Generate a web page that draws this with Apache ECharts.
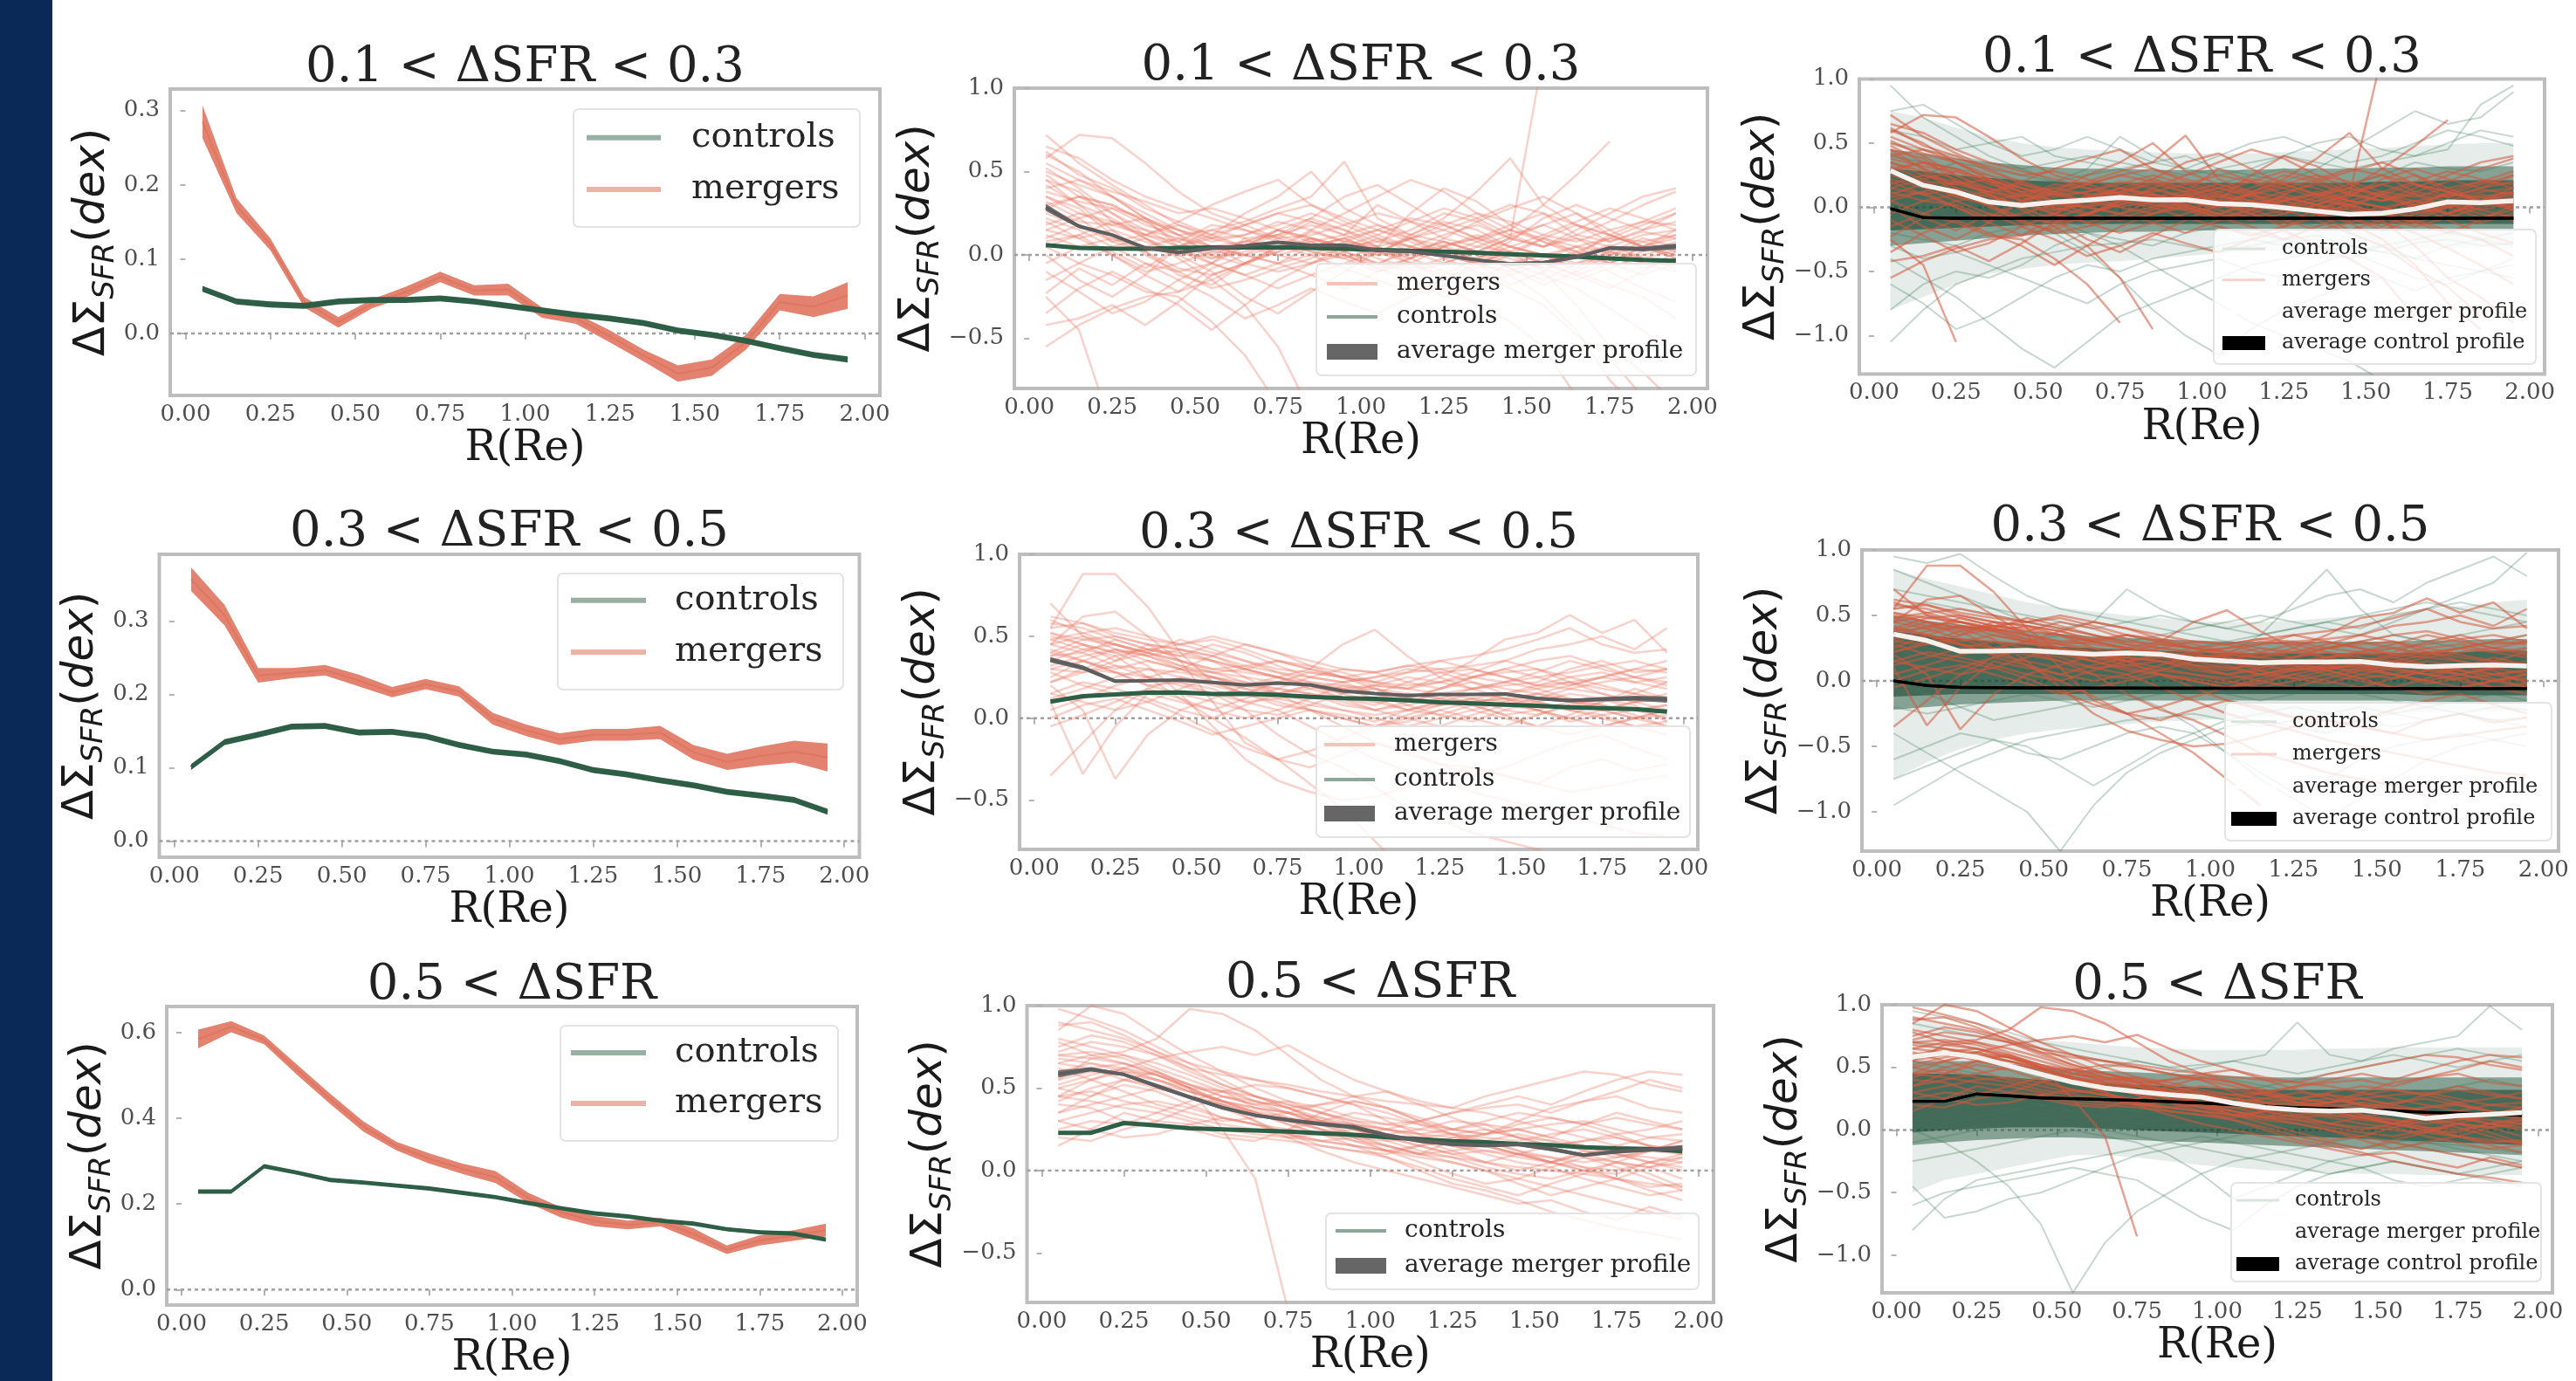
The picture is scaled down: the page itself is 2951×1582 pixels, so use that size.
<!DOCTYPE html>
<html><head><meta charset="utf-8">
<script src="https://cdn.jsdelivr.net/npm/echarts@6/dist/echarts.min.js"></script>
<style>html,body{margin:0;padding:0;background:#fff;overflow:hidden}#c{width:2951px;height:1582px}</style>
</head><body><div id="c"></div>
<script>
// ---------------- DATA ----------------
const xs=[0.05,0.15,0.25,0.35,0.45,0.55,0.65,0.75,0.85,0.95,1.05,1.15,1.25,1.35,1.45,1.55,1.65,1.75,1.85,1.95];
const xTicks=[0,0.25,0.5,0.75,1.0,1.25,1.5,1.75,2.0];
const rowTitles=['0.1 < ΔSFR < 0.3','0.3 < ΔSFR < 0.5','0.5 < ΔSFR'];

// Row 1 : 0.1 < dSFR < 0.3
const r1MergAvg=[0.285,0.172,0.120,0.042,0.015,0.040,0.056,0.076,0.058,0.059,0.028,0.020,-0.004,-0.030,-0.054,-0.046,-0.012,0.042,0.036,0.051];
const r1MergErr=[0.022,0.010,0.008,0.007,0.007,0.006,0.007,0.007,0.007,0.008,0.007,0.007,0.008,0.008,0.011,0.011,0.010,0.011,0.014,0.018];
const r1CtrlAvg=[0.060,0.043,0.039,0.037,0.043,0.045,0.045,0.047,0.043,0.037,0.031,0.025,0.020,0.014,0.004,-0.002,-0.010,-0.020,-0.029,-0.035];
const r1CtrlErr=[0.004,0.004,0.004,0.004,0.004,0.004,0.004,0.004,0.004,0.004,0.004,0.004,0.004,0.004,0.004,0.004,0.004,0.004,0.004,0.004];
const r1CtrlAll=[-0.010,-0.080,-0.085,-0.085,-0.085,-0.085,-0.085,-0.085,-0.085,-0.085,-0.085,-0.085,-0.085,-0.085,-0.085,-0.085,-0.085,-0.085,-0.085,-0.085];
const r1CtrlAllErr=[0.012,0.012,0.012,0.012,0.012,0.012,0.012,0.012,0.012,0.012,0.012,0.012,0.012,0.012,0.012,0.012,0.012,0.012,0.012,0.012];
const r1CtrlOuterLo=[-0.80,-0.70,-0.60,-0.52,-0.48,-0.45,-0.43,-0.42,-0.40,-0.38,-0.36,-0.35,-0.34,-0.33,-0.33,-0.32,-0.32,-0.32,-0.32,-0.32];
const r1CtrlOuterHi=[0.75,0.70,0.62,0.55,0.50,0.47,0.45,0.44,0.43,0.42,0.42,0.42,0.43,0.44,0.45,0.46,0.48,0.49,0.50,0.50];
const r1CtrlInnerLo=[-0.30,-0.28,-0.26,-0.24,-0.22,-0.21,-0.20,-0.19,-0.19,-0.18,-0.18,-0.18,-0.18,-0.18,-0.18,-0.18,-0.18,-0.18,-0.18,-0.18];
const r1CtrlInnerHi=[0.45,0.42,0.38,0.35,0.33,0.31,0.30,0.30,0.29,0.29,0.29,0.29,0.30,0.30,0.30,0.31,0.31,0.32,0.32,0.32];
const r1CtrlCoreLo=[-0.18,-0.17,-0.16,-0.15,-0.14,-0.13,-0.13,-0.13,-0.13,-0.13,-0.13,-0.13,-0.13,-0.13,-0.13,-0.13,-0.13,-0.13,-0.13,-0.13];
const r1CtrlCoreHi=[0.30,0.28,0.25,0.23,0.21,0.20,0.19,0.19,0.19,0.19,0.19,0.19,0.19,0.19,0.19,0.20,0.20,0.21,0.21,0.21];
const r1MergLines=[
[0.72,0.55,0.42,0.30,0.18,0.10,0.12,0.20,0.15,0.08,0.05,0.10,0.00,-0.05,-0.10,-0.02,0.05,0.10,0.08,0.12],
[0.58,0.72,0.70,0.55,0.38,0.25,0.18,0.25,0.30,0.22,0.15,0.10,0.18,0.25,0.20,0.12,0.08,0.15,0.20,0.18],
[0.62,0.48,0.40,0.28,0.20,0.12,0.25,0.35,0.50,0.28,0.18,0.12,0.20,0.15,0.05,0.00,-0.08,0.02,0.10,0.05],
[0.50,0.42,0.35,0.22,0.05,-0.05,-0.12,-0.05,0.05,0.10,0.02,-0.05,-0.12,-0.02,0.08,0.22,0.30,0.22,0.15,0.25],
[0.45,0.38,0.20,0.10,0.00,-0.10,-0.25,-0.35,-0.22,-0.10,0.02,0.10,0.05,-0.05,-0.18,-0.10,0.00,0.06,-0.02,-0.08],
[0.38,0.32,0.28,0.18,0.12,0.15,0.20,0.28,0.35,0.56,0.22,0.12,0.08,0.02,-0.02,-0.08,0.00,0.12,0.05,-0.02],
[0.32,0.22,0.08,0.02,-0.12,-0.18,-0.05,0.02,0.10,0.05,0.00,0.12,0.22,0.38,0.58,0.30,0.18,0.08,0.14,0.10],
[0.28,0.20,0.18,0.22,0.12,0.00,-0.06,0.04,0.14,0.08,0.04,0.00,0.06,0.10,0.15,0.30,0.48,0.68],
[0.12,0.05,0.02,-0.08,0.05,0.12,0.18,0.10,0.04,0.00,-0.06,0.05,0.12,0.18,0.10,1.20],
[-0.25,-0.45,-1.05],
[0.05,-0.05,-0.12,-0.22,-0.25,-0.40,-0.60,-0.90],
[-0.55,-0.42,-0.32,-0.25,-0.22,-0.08,0.00,-0.05,-0.12,-0.20,-0.10,-0.02,0.05,0.00,-0.08,-0.15,-0.05,0.02,-0.05,-0.10],
[-0.42,-0.38,-0.30,-0.42,-0.28,-0.12,-0.05,0.05,0.00,-0.08,-0.15,-0.22,-0.15,-0.05,0.02,-0.05,-0.12,-0.20,-0.10,0.02],
[-0.23,-0.08,-0.18,-0.05,-0.15,-0.25,-0.38,-0.30,-0.20,-0.28,-0.35,-0.25,-0.18,-0.30,-0.40,-0.55,-0.85],
[0.22,0.15,0.05,-0.05,-0.10,-0.05,0.10,0.12,0.18,0.12,0.30,0.20,0.10,0.05,0.12,0.18,0.10,0.05,0.12,0.15],
[0.18,0.25,0.20,0.12,0.08,0.18,0.15,0.08,0.02,-0.02,0.05,0.25,0.40,0.32,0.18,0.08,0.02,-0.05,0.02,0.08],
[0.42,0.30,0.22,0.10,-0.02,-0.15,-0.30,-0.55,-0.95],
[0.35,0.28,0.12,0.05,0.00,0.05,0.08,0.12,0.05,0.10,0.15,0.08,0.00,-0.05,-0.12,-0.25,-0.45,-0.75,-0.95],
[0.08,0.12,0.00,-0.10,-0.05,0.02,0.08,0.05,0.10,0.05,-0.02,-0.08,-0.02,0.05,0.02,-0.10,-0.30,-0.55,-0.70,-0.90],
[0.25,0.18,0.10,0.05,0.10,0.05,0.00,0.05,0.08,0.02,-0.05,-0.10,-0.05,0.02,0.10,0.05,0.12,0.20,0.30,0.38],
[0.15,0.10,0.15,0.08,0.02,-0.02,0.02,0.08,0.02,-0.02,-0.10,-0.05,0.05,0.12,0.05,0.00,-0.05,0.00,0.05,0.00],
[0.55,0.45,0.38,0.32,0.25,0.28,0.22,0.15,0.10,0.05,0.00,0.02,0.08,0.02,-0.05,0.00,0.05,0.02,-0.02,0.03],
[0.00,-0.15,-0.25,-0.12,0.05,0.15,0.10,0.00,-0.05,0.02,0.10,0.05,-0.02,-0.10,-0.20,-0.30,-0.48,-0.62,-0.85],
[0.30,0.35,0.25,0.15,0.10,0.02,0.00,0.10,0.20,0.15,0.08,0.15,0.25,0.20,0.10,0.18,0.25,0.15,0.05,0.10],
[-0.05,0.05,0.10,0.02,-0.08,-0.12,-0.05,0.02,0.08,0.12,0.18,0.10,0.02,-0.02,0.05,0.00,-0.10,-0.18,-0.25,-0.38],
[0.48,0.35,0.30,0.20,0.15,0.05,-0.05,-0.10,-0.05,0.05,0.12,0.20,0.28,0.22,0.12,0.05,0.10,0.00,-0.08,-0.02],
[0.10,0.18,0.08,0.12,0.18,0.12,0.05,0.00,0.05,0.10,0.02,-0.02,0.05,0.10,0.18,0.25,0.12,0.08,0.15,0.20],
[-0.35,-0.20,-0.10,-0.20,-0.30,-0.45,-0.30,-0.15,-0.05,0.00,-0.08,-0.15,-0.25,-0.15,-0.05,-0.12,-0.20,-0.32,-0.45,-0.60],
[0.65,0.58,0.45,0.35,0.28,0.22,0.15,0.10,0.12,0.18,0.25,0.20,0.15,0.22,0.30,0.25,0.18,0.12,0.20,0.28],
[0.40,0.45,0.35,0.25,0.15,0.10,0.05,0.12,0.22,0.35,0.42,0.30,0.18,0.10,0.05,0.12,0.20,0.28,0.22,0.15],
[0.20,0.10,0.00,-0.12,-0.22,-0.15,-0.05,0.05,0.15,0.25,0.35,0.45,0.38,0.25,0.15,0.08,0.00,-0.05,0.05,0.12],
[0.52,0.40,0.25,0.12,0.05,0.10,0.18,0.25,0.20,0.12,0.05,-0.02,-0.10,-0.18,-0.12,-0.05,0.02,0.10,0.18,0.25],
[-0.10,-0.22,-0.35,-0.28,-0.15,-0.05,0.05,0.15,0.22,0.15,0.05,-0.05,-0.15,-0.08,0.00,0.10,0.05,-0.05,-0.12,-0.05],
[0.35,0.25,0.18,0.12,0.20,0.30,0.38,0.45,0.30,0.20,0.12,0.05,0.00,0.08,0.15,0.10,0.02,-0.10,-0.20,-0.28],
[0.28,0.35,0.30,0.20,0.08,-0.02,0.05,0.15,0.08,0.00,-0.08,-0.02,0.10,0.20,0.28,0.35,0.25,0.12,0.05,0.00],
[0.45,0.30,0.15,0.00,-0.10,-0.20,-0.15,-0.08,-0.02,0.05,0.08,0.05,0.00,-0.05,0.02,0.10,0.18,0.12,0.05,-0.02],
[0.15,0.22,0.28,0.22,0.15,0.08,0.12,0.18,0.25,0.18,0.10,0.02,-0.05,0.02,0.10,0.05,0.15,0.25,0.35,0.40],
[-0.15,-0.05,0.05,0.10,0.02,-0.05,-0.12,-0.20,-0.12,-0.05,0.02,0.10,0.15,0.08,0.00,-0.08,-0.15,-0.08,0.00,0.05],
[0.60,0.50,0.35,0.22,0.12,0.05,0.00,-0.05,0.00,0.08,0.15,0.22,0.18,0.10,0.02,-0.05,-0.12,-0.05,0.05,0.15],
[0.05,0.12,0.20,0.15,0.05,0.00,0.08,0.15,0.10,0.02,-0.05,0.02,0.08,0.02,-0.08,-0.18,-0.10,0.00,0.08,0.02]
];
const r1CtrlLines=[
[0.95,0.70,0.55,0.40,0.30,0.20,0.25,0.30,0.22,0.15,0.18,0.25,0.30,0.22,0.18,0.25,0.35,0.30,0.28,0.35],
[-1.05,-0.80,-0.60,-0.50,-0.40,-0.35,-0.30,-0.28,-0.25,-0.30,-0.35,-0.30,-0.25,-0.22,-0.30,-0.35,-0.28,-0.25,-0.30,-0.28],
[0.60,0.55,0.45,0.50,0.55,0.40,0.35,0.30,0.35,0.40,0.30,0.25,0.20,0.30,0.45,0.60,0.75,0.65,0.70,0.90],
[-0.60,-0.75,-0.95,-0.85,-0.70,-0.55,-0.45,-0.50,-0.40,-0.35,-0.30,-0.25,-0.30,-0.35,-0.40,-0.30,-0.25,-0.20,-0.25,-0.30],
[0.20,0.10,0.05,-0.05,-0.10,-0.20,-0.35,-0.55,-0.80,-1.00,-1.15,-0.95,-0.80,-0.70,-0.60,-0.55,-0.65,-0.55,-0.50,-0.45],
[0.40,0.35,0.30,0.25,0.20,0.15,0.10,0.12,0.15,0.10,0.05,0.10,0.15,0.20,0.15,0.10,0.05,0.10,0.15,0.20],
[-0.20,-0.25,-0.30,-0.20,-0.15,-0.10,-0.15,-0.10,-0.05,0.00,-0.05,-0.10,-0.05,0.00,0.05,0.00,-0.05,-0.10,-0.05,0.00],
[0.75,0.80,0.65,0.50,0.40,0.45,0.55,0.45,0.35,0.30,0.40,0.50,0.55,0.45,0.35,0.40,0.50,0.60,0.55,0.48],
[-0.40,-0.55,-0.70,-0.90,-1.10,-1.25,-1.05,-0.85,-0.75,-0.65,-0.55,-0.45,-0.40,-0.35,-0.30,-0.35,-0.40,-0.30,-0.25,-0.20],
[0.05,0.00,-0.10,-0.05,0.05,0.10,0.05,0.00,-0.05,-0.10,-0.05,0.00,0.05,0.10,0.05,0.00,-0.05,0.00,0.05,0.10],
[0.30,0.20,0.15,0.10,0.00,-0.10,-0.20,-0.30,-0.45,-0.60,-0.75,-0.90,-1.00,-1.10,-1.20,-1.35],
[-0.80,-0.60,-0.50,-0.55,-0.45,-0.30,-0.20,-0.25,-0.30,-0.20,-0.15,-0.20,-0.25,-0.30,-0.35,-0.45,-0.55,-0.60,-0.50,-0.40],
[0.50,0.45,0.40,0.35,0.30,0.35,0.40,0.35,0.30,0.25,0.30,0.35,0.40,0.50,0.55,0.45,0.40,0.50,0.60,0.55],
[-0.30,-0.40,-0.35,-0.45,-0.55,-0.65,-0.75,-0.60,-0.50,-0.45,-0.40,-0.50,-0.55,-0.45,-0.35,-0.30,-0.40,-0.45,-0.50,-0.55],
[0.15,0.25,0.35,0.30,0.25,0.20,0.30,0.55,0.40,0.30,0.25,0.30,0.40,0.35,0.30,0.35,0.40,0.45,0.80,0.95],
[-0.10,-0.05,0.00,0.05,0.10,0.05,0.00,-0.05,0.00,0.05,0.00,-0.05,-0.10,-0.15,-0.10,-0.05,0.00,0.05,0.00,-0.05]
];

// Row 2 : 0.3 < dSFR < 0.5
const r2MergAvg=[0.357,0.308,0.226,0.229,0.233,0.219,0.203,0.214,0.204,0.167,0.151,0.139,0.145,0.145,0.148,0.121,0.108,0.116,0.122,0.114];
const r2MergErr=[0.016,0.014,0.010,0.007,0.007,0.008,0.007,0.007,0.007,0.008,0.008,0.008,0.008,0.008,0.009,0.010,0.011,0.013,0.015,0.019];
const r2CtrlAvg=[0.101,0.135,0.145,0.156,0.157,0.148,0.149,0.143,0.131,0.122,0.118,0.109,0.097,0.091,0.083,0.076,0.067,0.062,0.056,0.040];
const r2CtrlErr=[0.004,0.004,0.004,0.004,0.004,0.004,0.004,0.004,0.004,0.004,0.004,0.004,0.004,0.004,0.004,0.004,0.004,0.004,0.004,0.004];
const r2CtrlAll=[0.000,-0.035,-0.050,-0.052,-0.053,-0.054,-0.055,-0.055,-0.056,-0.056,-0.057,-0.057,-0.057,-0.058,-0.058,-0.058,-0.058,-0.058,-0.058,-0.058];
const r2CtrlAllErr=[0.012,0.012,0.012,0.012,0.012,0.012,0.012,0.012,0.012,0.012,0.012,0.012,0.012,0.012,0.012,0.012,0.012,0.012,0.012,0.012];
const r2CtrlOuterLo=[-0.75,-0.62,-0.52,-0.45,-0.40,-0.37,-0.35,-0.33,-0.31,-0.30,-0.29,-0.28,-0.27,-0.26,-0.25,-0.25,-0.24,-0.24,-0.23,-0.23];
const r2CtrlOuterHi=[0.85,0.78,0.72,0.66,0.60,0.56,0.53,0.50,0.48,0.46,0.45,0.45,0.46,0.48,0.50,0.52,0.55,0.57,0.60,0.62];
const r2CtrlInnerLo=[-0.22,-0.20,-0.18,-0.17,-0.16,-0.15,-0.15,-0.15,-0.15,-0.15,-0.15,-0.15,-0.15,-0.15,-0.15,-0.15,-0.16,-0.16,-0.16,-0.16];
const r2CtrlInnerHi=[0.50,0.46,0.43,0.40,0.38,0.36,0.34,0.33,0.32,0.31,0.30,0.30,0.30,0.30,0.30,0.30,0.31,0.31,0.32,0.32];
const r2CtrlCoreLo=[-0.12,-0.11,-0.10,-0.10,-0.10,-0.10,-0.10,-0.10,-0.10,-0.10,-0.10,-0.10,-0.10,-0.10,-0.10,-0.10,-0.11,-0.11,-0.11,-0.11];
const r2CtrlCoreHi=[0.38,0.35,0.32,0.30,0.28,0.26,0.25,0.24,0.23,0.22,0.21,0.21,0.21,0.21,0.21,0.21,0.22,0.22,0.23,0.23];
const r2MergLines=[
[0.70,0.50,0.42,0.35,0.30,0.22,0.18,0.15,0.20,0.12,0.05,0.10,0.15,0.08,0.02,0.05,0.10,0.05,0.00,0.02],
[0.55,0.88,0.88,0.68,0.40,0.22,0.15,0.10,0.05,0.00,-0.05,-0.02,0.05,0.10,0.08,0.12,0.18,0.15,0.10,0.12],
[0.45,0.62,0.65,0.50,0.35,0.28,0.30,0.25,0.20,0.18,0.15,0.22,0.28,0.30,0.25,0.20,0.18,0.22,0.25,0.20],
[0.40,0.48,0.45,0.38,0.42,0.38,0.30,0.25,0.30,0.45,0.54,0.38,0.25,0.18,0.22,0.28,0.35,0.30,0.25,0.22],
[0.35,0.30,0.28,0.20,0.15,0.10,0.05,0.02,0.08,0.15,0.20,0.18,0.25,0.35,0.48,0.52,0.63,0.52,0.60,0.40],
[0.25,0.35,0.42,0.38,0.30,0.25,0.20,0.15,0.18,0.22,0.25,0.28,0.30,0.32,0.35,0.42,0.45,0.50,0.42,0.55],
[-0.35,-0.15,0.05,0.18,0.25,0.22,0.15,0.08,0.05,0.00,-0.05,0.02,0.08,0.12,0.05,0.02,0.08,0.12,0.05,0.00],
[0.10,-0.34,-0.05,0.15,0.10,0.05,0.12,0.18,0.15,0.08,0.05,0.00,-0.05,0.02,0.08,0.05,-0.02,0.02,0.05,0.08],
[0.20,0.05,-0.37,-0.10,0.05,0.12,0.20,0.25,0.18,0.12,0.08,0.15,0.12,0.05,0.00,-0.05,0.02,0.10,0.15,0.12],
[0.48,0.42,0.38,0.25,0.12,0.00,-0.12,-0.25,-0.40,-0.55,-0.75,-0.95],
[0.38,0.45,0.40,0.32,0.15,-0.05,-0.25,-0.38,-0.45,-0.50,-0.48,-0.42,-0.35,-0.30,-0.35,-0.40,-0.30,-0.25,-0.32,-0.28],
[0.52,0.48,0.50,0.45,0.35,0.10,-0.15,-0.25,-0.30,-0.22,-0.15,-0.20,-0.28,-0.35,-0.30,-0.22,-0.15,-0.10,-0.18,-0.25],
[0.42,0.35,0.30,0.35,0.30,0.28,0.25,0.22,0.20,0.15,0.18,0.12,0.08,0.10,0.12,0.05,0.00,0.05,0.10,0.05],
[0.30,0.28,0.32,0.30,0.28,0.25,0.20,0.18,0.25,0.22,0.15,0.10,0.15,0.18,0.12,0.10,0.15,0.12,0.08,-0.02],
[0.15,0.22,0.18,0.12,0.05,0.00,0.08,0.15,0.20,0.18,0.12,0.05,0.02,0.08,0.15,0.20,0.25,0.28,0.22,0.25],
[0.60,0.52,0.45,0.40,0.35,0.30,0.28,0.25,0.22,0.20,0.18,0.15,0.12,0.10,0.12,0.15,0.10,0.08,0.05,0.08],
[0.00,0.08,0.12,0.05,-0.02,-0.10,-0.05,0.00,0.05,0.02,-0.02,0.05,0.10,0.08,0.02,-0.05,-0.10,-0.05,0.00,-0.05],
[0.50,0.45,0.35,0.40,0.48,0.42,0.35,0.28,0.22,0.18,0.20,0.25,0.22,0.18,0.20,0.22,0.30,0.35,0.28,0.30],
[0.38,0.40,0.32,0.25,0.20,0.15,0.05,-0.10,-0.22,-0.30,-0.42,-0.55,-0.62,-0.70,-0.75,-0.80,-0.88],
[0.22,0.28,0.35,0.45,0.42,0.35,0.30,0.35,0.32,0.28,0.22,0.28,0.35,0.30,0.25,0.20,0.22,0.18,0.15,0.22],
[0.45,0.40,0.48,0.42,0.38,0.45,0.40,0.32,0.25,0.30,0.28,0.22,0.18,0.25,0.30,0.25,0.20,0.25,0.30,0.35],
[-0.05,0.02,0.10,0.18,0.12,0.05,0.00,0.05,0.12,0.20,0.15,0.08,0.02,-0.02,0.05,0.10,0.05,0.00,-0.05,-0.02],
[0.30,0.35,0.28,0.20,0.22,0.18,0.10,0.05,-0.05,-0.15,-0.25,-0.32,-0.38,-0.45,-0.50,-0.55,-0.60,-0.65,-0.70,-0.72],
[0.12,0.18,0.25,0.30,0.25,0.20,0.15,0.22,0.28,0.25,0.18,0.12,0.18,0.22,0.15,0.10,0.05,0.10,0.18,0.12],
[0.55,0.58,0.52,0.48,0.45,0.50,0.45,0.40,0.35,0.30,0.28,0.32,0.35,0.38,0.42,0.48,0.55,0.45,0.40,0.42],
[0.28,0.20,0.15,0.10,0.02,-0.08,-0.18,-0.25,-0.20,-0.12,-0.05,0.00,0.05,0.00,-0.05,0.02,0.08,0.05,0.00,0.05],
[0.62,0.58,0.50,0.45,0.42,0.38,0.32,0.28,0.25,0.22,0.25,0.30,0.28,0.22,0.18,0.15,0.20,0.25,0.22,0.18],
[0.48,0.52,0.55,0.50,0.45,0.40,0.35,0.30,0.28,0.25,0.22,0.20,0.22,0.25,0.28,0.30,0.25,0.20,0.15,0.10],
[0.32,0.38,0.42,0.38,0.32,0.28,0.22,0.18,0.15,0.12,0.10,0.12,0.18,0.25,0.30,0.35,0.38,0.32,0.25,0.30],
[0.58,0.55,0.48,0.42,0.38,0.35,0.30,0.25,0.20,0.15,0.10,0.05,0.08,0.12,0.10,0.05,0.00,-0.05,0.00,0.05],
[0.22,0.30,0.38,0.42,0.45,0.48,0.42,0.35,0.30,0.25,0.22,0.18,0.15,0.12,0.15,0.18,0.22,0.25,0.30,0.28],
[0.40,0.35,0.28,0.25,0.30,0.38,0.45,0.40,0.32,0.25,0.20,0.18,0.22,0.28,0.35,0.30,0.22,0.15,0.10,0.12],
[0.15,0.10,0.05,0.10,0.18,0.25,0.22,0.15,0.10,0.05,0.00,-0.05,0.00,0.05,0.10,0.15,0.12,0.08,0.02,-0.05],
[0.52,0.45,0.40,0.42,0.40,0.35,0.25,0.15,0.05,-0.05,-0.15,-0.22,-0.28,-0.30,-0.35,-0.40,-0.45,-0.42,-0.38,-0.35],
[0.35,0.42,0.45,0.40,0.35,0.30,0.32,0.35,0.30,0.25,0.28,0.32,0.30,0.25,0.22,0.25,0.28,0.32,0.35,0.30],
[0.05,0.12,0.20,0.25,0.22,0.15,0.10,0.12,0.15,0.10,0.05,0.08,0.12,0.18,0.22,0.18,0.12,0.05,0.10,0.15],
[0.45,0.50,0.45,0.40,0.32,0.25,0.18,0.12,0.08,0.05,0.02,0.05,0.10,0.15,0.12,0.08,0.05,0.02,-0.05,-0.10]
];
const r2CtrlLines=[
[0.95,0.90,0.97,0.80,0.65,0.55,0.50,0.45,0.40,0.35,0.30,0.35,0.40,0.45,0.50,0.55,0.60,0.55,0.50,0.45],
[-0.95,-0.80,-0.65,-0.55,-0.45,-0.40,-0.35,-0.30,-0.28,-0.25,-0.30,-0.35,-0.30,-0.25,-0.20,-0.25,-0.30,-0.25,-0.20,-0.22],
[-0.40,-0.55,-0.70,-0.85,-1.00,-1.30,-0.95,-0.70,-0.55,-0.45,-0.35,-0.30,-0.35,-0.40,-0.30,-0.25,-0.20,-0.25,-0.30,-0.28],
[0.70,0.65,0.60,0.55,0.50,0.45,0.40,0.45,0.50,0.45,0.40,0.45,0.55,0.65,0.70,0.60,0.75,0.85,0.95,0.80],
[0.10,0.05,0.00,-0.05,0.00,0.05,0.10,0.05,0.00,-0.05,-0.10,-0.05,0.00,0.05,0.10,0.05,0.00,-0.05,0.00,0.05],
[0.40,0.35,0.30,0.25,0.30,0.35,0.30,0.25,0.20,0.25,0.30,0.25,0.20,0.25,0.30,0.35,0.30,0.25,0.30,0.35],
[-0.60,-0.50,-0.40,-0.45,-0.55,-0.60,-0.50,-0.40,-0.35,-0.40,-0.55,-0.70,-0.85,-0.75,-0.60,-0.50,-0.45,-0.40,-0.45,-0.50],
[0.25,0.15,0.10,0.05,0.10,0.15,0.05,0.00,0.05,0.10,0.20,0.35,0.60,0.85,0.55,0.35,0.30,0.35,0.40,0.45],
[-0.20,-0.25,-0.20,-0.15,-0.10,-0.15,-0.20,-0.15,-0.10,-0.05,-0.10,-0.15,-0.10,-0.05,-0.10,-0.15,-0.20,-0.15,-0.10,-0.15],
[0.55,0.60,0.55,0.50,0.45,0.40,0.45,0.70,0.55,0.45,0.40,0.35,0.40,0.45,0.40,0.50,0.55,0.60,0.55,0.50],
[-0.75,-0.65,-0.55,-0.45,-0.50,-0.65,-0.80,-0.65,-0.50,-0.40,-0.30,-0.25,-0.20,-0.25,-0.30,-0.35,-0.30,-0.25,-0.30,-0.35],
[0.00,-0.10,-0.20,-0.30,-0.25,-0.20,-0.15,-0.10,-0.20,-0.35,-0.55,-0.75,-0.90,-1.05,-0.90,-0.75,-0.60,-0.50,-0.45,-0.40],
[0.30,0.25,0.20,0.15,0.10,0.05,0.00,0.05,0.10,0.15,0.10,0.05,0.10,0.15,0.20,0.25,0.20,0.15,0.20,0.25],
[0.85,0.75,0.65,0.55,0.45,0.40,0.35,0.30,0.35,0.40,0.45,0.50,0.45,0.40,0.35,0.45,0.55,0.65,0.75,0.98]
];

// Row 3 : 0.5 < dSFR
const r3MergAvg=[0.585,0.614,0.583,0.513,0.445,0.381,0.335,0.306,0.282,0.263,0.214,0.180,0.160,0.151,0.158,0.130,0.093,0.115,0.126,0.139];
const r3MergErr=[0.022,0.013,0.010,0.012,0.012,0.012,0.010,0.012,0.012,0.014,0.012,0.012,0.012,0.010,0.010,0.013,0.010,0.012,0.012,0.015];
const r3CtrlAvg=[0.229,0.229,0.288,0.273,0.256,0.250,0.243,0.236,0.226,0.216,0.202,0.190,0.178,0.171,0.161,0.154,0.141,0.134,0.131,0.117];
const r3CtrlErr=[0.005,0.005,0.005,0.005,0.005,0.005,0.005,0.005,0.005,0.005,0.005,0.005,0.005,0.005,0.005,0.005,0.005,0.005,0.005,0.005];
const r3CtrlAllErr=[0.012,0.012,0.012,0.012,0.012,0.012,0.012,0.012,0.012,0.012,0.012,0.012,0.012,0.012,0.012,0.012,0.012,0.012,0.012,0.012];
const r3CtrlOuterLo=[-0.50,-0.40,-0.35,-0.30,-0.25,-0.20,-0.20,-0.22,-0.25,-0.28,-0.30,-0.32,-0.33,-0.34,-0.35,-0.35,-0.36,-0.36,-0.36,-0.36];
const r3CtrlOuterHi=[0.90,0.85,0.80,0.75,0.72,0.70,0.68,0.66,0.65,0.64,0.64,0.64,0.64,0.65,0.65,0.66,0.66,0.66,0.66,0.66];
const r3CtrlInnerLo=[-0.12,-0.10,-0.08,-0.07,-0.06,-0.06,-0.07,-0.08,-0.09,-0.10,-0.11,-0.12,-0.13,-0.14,-0.15,-0.16,-0.17,-0.18,-0.19,-0.20];
const r3CtrlInnerHi=[0.55,0.55,0.55,0.53,0.50,0.48,0.47,0.46,0.45,0.44,0.43,0.42,0.42,0.42,0.42,0.42,0.42,0.42,0.42,0.42];
const r3CtrlCoreLo=[-0.02,0.00,0.01,0.02,0.02,0.02,0.01,0.00,-0.01,-0.02,-0.03,-0.04,-0.05,-0.06,-0.07,-0.08,-0.09,-0.10,-0.11,-0.12];
const r3CtrlCoreHi=[0.45,0.45,0.44,0.42,0.40,0.38,0.37,0.36,0.35,0.34,0.33,0.32,0.32,0.32,0.32,0.32,0.32,0.32,0.32,0.32];
const r3MergLines=[
[0.98,0.92,0.85,0.75,0.65,0.55,0.45,0.38,0.30,0.25,0.20,0.15,0.10,0.12,0.08,0.05,0.10,0.05,0.02,0.08],
[0.85,1.00,0.95,0.82,0.70,0.60,0.50,0.42,0.35,0.28,0.22,0.25,0.30,0.28,0.20,0.15,0.18,0.22,0.15,0.10],
[0.78,0.70,0.72,0.80,0.98,0.95,0.85,0.70,0.55,0.45,0.38,0.30,0.22,0.15,0.10,0.05,0.00,-0.05,0.02,0.05],
[0.65,0.70,0.65,0.58,0.50,0.40,0.30,0.20,0.12,0.05,0.00,-0.05,-0.10,-0.15,-0.20,-0.18,-0.25,-0.30,-0.22,-0.28],
[0.60,0.62,0.65,0.60,0.52,0.45,0.40,0.42,0.38,0.32,0.28,0.30,0.35,0.38,0.40,0.35,0.42,0.48,0.55,0.50],
[0.55,0.68,0.70,0.62,0.55,0.48,0.38,0.32,0.25,0.18,0.12,0.08,0.05,0.00,-0.08,-0.15,-0.10,-0.05,-0.12,-0.18],
[0.50,0.45,0.52,0.48,0.40,0.32,0.28,0.22,0.18,0.20,0.15,0.10,0.18,0.22,0.28,0.32,0.28,0.35,0.30,0.25],
[0.35,0.45,0.55,0.60,0.50,0.25,-0.05,-0.85],
[0.15,0.25,0.35,0.30,0.38,0.45,0.40,0.35,0.30,0.22,0.15,0.10,0.05,0.00,-0.05,-0.10,-0.15,-0.20,-0.25,-0.30],
[0.40,0.38,0.30,0.28,0.25,0.20,0.18,0.25,0.35,0.42,0.38,0.30,0.25,0.22,0.30,0.38,0.42,0.45,0.38,0.35],
[0.70,0.72,0.68,0.60,0.52,0.45,0.42,0.38,0.30,0.25,0.22,0.18,0.12,0.05,0.00,0.05,0.12,0.10,0.05,0.02],
[0.62,0.55,0.48,0.40,0.35,0.30,0.32,0.35,0.28,0.22,0.25,0.30,0.35,0.40,0.45,0.40,0.48,0.55,0.60,0.58],
[0.45,0.55,0.62,0.58,0.50,0.42,0.35,0.28,0.22,0.15,0.08,0.00,-0.08,-0.12,-0.18,-0.25,-0.30,-0.35,-0.38,-0.42],
[0.25,0.30,0.28,0.35,0.42,0.48,0.52,0.50,0.45,0.40,0.35,0.28,0.22,0.18,0.12,0.08,0.02,-0.05,-0.10,-0.08],
[0.72,0.78,0.75,0.70,0.62,0.58,0.55,0.52,0.48,0.45,0.42,0.40,0.38,0.35,0.30,0.25,0.20,0.15,0.12,0.15],
[0.58,0.62,0.55,0.50,0.45,0.38,0.30,0.22,0.15,0.12,0.10,0.15,0.20,0.18,0.12,0.05,0.00,-0.02,0.05,0.10],
[0.90,0.85,0.80,0.72,0.65,0.60,0.55,0.50,0.45,0.40,0.30,0.22,0.15,0.10,0.05,0.02,-0.05,-0.10,-0.15,-0.12],
[0.35,0.40,0.45,0.50,0.45,0.40,0.35,0.30,0.25,0.20,0.18,0.20,0.22,0.25,0.20,0.15,0.18,0.20,0.15,0.12],
[0.52,0.58,0.62,0.68,0.72,0.75,0.70,0.76,0.65,0.55,0.48,0.40,0.32,0.25,0.20,0.18,0.15,0.10,0.08,0.05],
[0.20,0.18,0.25,0.30,0.28,0.22,0.20,0.18,0.15,0.12,0.08,0.02,-0.05,-0.10,-0.15,-0.08,-0.02,0.05,-0.02,-0.10],
[0.68,0.65,0.60,0.55,0.48,0.42,0.38,0.35,0.40,0.45,0.48,0.42,0.38,0.45,0.50,0.55,0.60,0.58,0.52,0.48],
[0.45,0.48,0.42,0.38,0.32,0.28,0.25,0.20,0.22,0.25,0.20,0.15,0.10,0.05,0.10,0.15,0.08,0.02,-0.05,-0.12],
[0.80,0.75,0.70,0.65,0.58,0.50,0.42,0.35,0.28,0.20,0.12,0.05,-0.02,-0.08,-0.05,0.02,0.08,0.05,0.12,0.18],
[0.30,0.25,0.20,0.22,0.28,0.32,0.28,0.25,0.30,0.35,0.32,0.28,0.25,0.22,0.25,0.20,0.28,0.32,0.28,0.25],
[0.75,0.82,0.78,0.70,0.60,0.52,0.45,0.40,0.35,0.30,0.28,0.25,0.22,0.20,0.18,0.22,0.25,0.20,0.15,0.12],
[0.55,0.60,0.58,0.52,0.45,0.40,0.35,0.30,0.25,0.22,0.20,0.18,0.15,0.12,0.10,0.08,0.05,0.08,0.12,0.10],
[0.65,0.62,0.58,0.55,0.50,0.48,0.45,0.40,0.35,0.30,0.25,0.22,0.25,0.28,0.25,0.20,0.15,0.10,0.05,0.00],
[0.42,0.50,0.55,0.52,0.48,0.42,0.38,0.35,0.32,0.28,0.25,0.20,0.15,0.18,0.22,0.18,0.12,0.08,0.12,0.18],
[0.88,0.90,0.82,0.72,0.62,0.52,0.45,0.38,0.32,0.25,0.18,0.12,0.08,0.02,-0.02,-0.05,0.00,0.05,0.02,-0.05],
[0.60,0.65,0.62,0.55,0.48,0.42,0.36,0.32,0.30,0.28,0.25,0.22,0.20,0.22,0.25,0.28,0.30,0.25,0.20,0.18],
[0.30,0.35,0.40,0.42,0.38,0.32,0.28,0.22,0.18,0.15,0.12,0.10,0.08,0.05,0.02,0.00,-0.02,-0.05,-0.08,-0.10],
[0.50,0.55,0.60,0.58,0.52,0.48,0.42,0.38,0.40,0.42,0.38,0.32,0.25,0.30,0.35,0.32,0.28,0.22,0.25,0.30],
[0.70,0.68,0.65,0.58,0.50,0.42,0.35,0.28,0.22,0.18,0.15,0.10,0.12,0.15,0.10,0.05,0.02,0.00,0.05,0.08],
[0.45,0.42,0.38,0.35,0.30,0.25,0.22,0.20,0.18,0.15,0.12,0.15,0.18,0.15,0.10,0.05,0.10,0.15,0.20,0.22]
];
const r3CtrlLines=[
[-0.80,-0.55,-0.40,-0.35,-0.30,-0.25,-0.20,-0.15,-0.10,-0.05,-0.10,-0.15,-0.20,-0.25,-0.20,-0.15,-0.10,-0.15,-0.20,-0.25],
[-0.45,-0.70,-0.65,-0.55,-0.50,-0.40,-0.30,-0.20,-0.15,-0.10,-0.05,0.00,-0.05,-0.10,-0.15,-0.10,-0.05,0.00,0.05,0.00],
[0.00,-0.10,-0.25,-0.45,-0.75,-1.30,-0.90,-0.65,-0.50,-0.35,-0.25,-0.20,-0.15,-0.10,-0.05,-0.10,-0.15,-0.20,-0.25,-0.30],
[0.95,0.90,0.85,0.78,0.70,0.65,0.60,0.55,0.50,0.52,0.55,0.60,0.86,0.60,0.55,0.65,0.70,0.75,0.99,0.80],
[0.40,0.35,0.30,0.28,0.25,0.20,0.18,0.15,0.12,0.10,0.08,0.05,0.02,0.00,-0.05,-0.08,-0.10,-0.12,-0.15,-0.18],
[0.20,0.25,0.30,0.25,0.20,0.15,0.10,0.05,0.10,0.15,0.20,0.25,0.20,0.15,0.10,0.15,0.20,0.25,0.20,0.15],
[0.70,0.65,0.60,0.55,0.50,0.45,0.50,0.55,0.50,0.45,0.40,0.35,0.40,0.45,0.50,0.55,0.60,0.65,0.60,0.55],
[-0.25,-0.20,-0.15,-0.10,-0.05,0.00,-0.05,-0.10,-0.20,-0.35,-0.55,-0.45,-0.35,-0.25,-0.30,-0.40,-0.45,-0.40,-0.35,-0.30],
[0.55,0.50,0.45,0.40,0.35,0.30,0.25,0.20,0.15,0.10,0.05,0.00,0.05,0.10,0.05,0.00,-0.05,-0.10,-0.05,0.00],
[0.10,0.05,0.10,0.15,0.20,0.25,0.30,0.35,0.30,0.25,0.20,0.15,0.10,0.15,0.20,0.25,0.30,0.35,0.30,0.25],
[-0.60,-0.50,-0.45,-0.40,-0.35,-0.30,-0.35,-0.40,-0.55,-0.70,-0.80,-0.60,-0.45,-0.35,-0.30,-0.25,-0.30,-0.35,-0.40,-0.45],
[0.85,0.80,0.75,0.70,0.65,0.60,0.55,0.50,0.45,0.50,0.55,0.50,0.45,0.50,0.55,0.60,0.55,0.50,0.55,0.60],
[0.30,0.35,0.40,0.35,0.30,0.25,0.20,0.15,0.20,0.25,0.30,0.35,0.30,0.25,0.20,0.25,0.30,0.35,0.40,0.35],
[-0.10,-0.05,0.00,0.05,0.10,0.05,0.00,-0.05,-0.10,-0.15,-0.20,-0.25,-0.30,-0.35,-0.30,-0.25,-0.30,-0.35,-0.30,-0.25]
];

// ---------------- LAYOUT ----------------
const XMIN=-0.045, XMAX=2.045;
const panels=[
 {g:[195,102,813,351], y:[-0.0835,0.329], ticks:[0,0.1,0.2,0.3], t:[601.5,78], ng:57},
 {g:[1162,101,794,344], y:[-0.8,1.0], ticks:[-0.5,0,0.5,1.0], t:[1559,76], ng:75},
 {g:[2130,90.5,785,338], y:[-1.3,1.0], ticks:[-1,-0.5,0,0.5,1.0], t:[2522.5,67], ng:72},
 {g:[182.5,635,802,347], y:[-0.022,0.391], ticks:[0,0.1,0.2,0.3], t:[583.5,610], ng:57},
 {g:[1168,635,777,338], y:[-0.8,1.0], ticks:[-0.5,0,0.5,1.0], t:[1556.5,612], ng:75},
 {g:[2133,630,798,345], y:[-1.3,1.0], ticks:[-1,-0.5,0,0.5,1.0], t:[2532,604], ng:78},
 {g:[191,1153,791,342], y:[-0.036,0.661], ticks:[0,0.2,0.4,0.6], t:[586.5,1129], ng:53},
 {g:[1176.5,1152,786.5,340], y:[-0.8,1.0], ticks:[-0.5,0,0.5,1.0], t:[1569.7,1127], ng:77},
 {g:[2156,1151,768,330], y:[-1.3,1.0], ticks:[-1,-0.5,0,0.5,1.0], t:[2540,1129], ng:74}
];
const legendSpecs=[
 {box:[657,125,328,135], ix:672, iw:85, tx:792, fs:40, items:[['line','#98b0a2','controls',157.7,6],['line','#efb1a4','mergers',217,6]]},
 {box:[1508,302,435,128], ix:1520, iw:58, tx:1600, fs:28, items:[['line','#f4c4b9','mergers',325,4],['line','#8aa797','controls',363,4],['rect','#666666','average merger profile',403,18]]},
 {box:[2536,263,369,154], ix:2546, iw:49, tx:2614, fs:24, items:[['line','#dbe3de','controls',285,3],['line','#f6d2ca','mergers',320.7,3],['line','#ffffff','average merger profile',358,4],['rect','#000000','average control profile',393,16]]},
 {box:[639,657,327,133], ix:654, iw:86, tx:773, fs:40, items:[['line','#98b0a2','controls',687.7,6],['line','#efb1a4','mergers',747,6]]},
 {box:[1508,832,428,127], ix:1517, iw:58, tx:1597, fs:28, items:[['line','#f4c4b9','mergers',853,4],['line','#8aa797','controls',893,4],['rect','#666666','average merger profile',932,18]]},
 {box:[2549,805,374,158], ix:2556, iw:52, tx:2626, fs:24, items:[['line','#dbe3de','controls',826.7,3],['line','#f6d2ca','mergers',864,3],['line','#ffffff','average merger profile',901.7,4],['rect','#000000','average control profile',938,16]]},
 {box:[642,1175,318,132], ix:654, iw:86, tx:773, fs:40, items:[['line','#98b0a2','controls',1206,6],['line','#efb1a4','mergers',1264,6]]},
 {box:[1519,1390,427,87], ix:1530, iw:58, tx:1609, fs:28, items:[['line','#8aa797','controls',1410,4],['rect','#666666','average merger profile',1450,18]]},
 {box:[2556,1355,355,113], ix:2562, iw:49, tx:2629, fs:24, items:[['line','#dbe3de','controls',1375,3],['line','#ffffff','average merger profile',1411.7,4],['rect','#000000','average control profile',1448,16]]}
];

// ---------------- BUILD ----------------
const minus=s=>s.replace('-','\u2212');
const grids=[], xAxes=[], yAxes=[], titles=[], series=[];
panels.forEach((p,i)=>{
  grids.push({left:p.g[0], top:p.g[1], width:p.g[2], height:p.g[3], show:true, borderColor:'#bdbdbd', borderWidth:4, backgroundColor:'#ffffff', containLabel:false});
  xAxes.push({gridIndex:i, type:'value', min:XMIN, max:XMAX, axisLine:{show:false}, splitLine:{show:false},
    axisTick:{show:true, customValues:xTicks, length:7, lineStyle:{color:'#b3b3b3', width:2}},
    axisLabel:{customValues:xTicks, interval:0, formatter:v=>v.toFixed(2), fontFamily:'DejaVu Serif', fontSize:26, color:'#4d4d4d', margin:9},
    name:'R(Re)', nameLocation:'middle', nameGap:38, nameTextStyle:{fontFamily:'DejaVu Serif', fontSize:48, color:'#1a1a1a', lineHeight:48}});
  yAxes.push({gridIndex:i, type:'value', min:p.y[0], max:p.y[1], axisLine:{show:false}, splitLine:{show:false},
    axisTick:{show:true, customValues:p.ticks, length:6, lineStyle:{color:'#b3b3b3', width:2}},
    axisLabel:{customValues:p.ticks, interval:0, formatter:v=>minus(v.toFixed(1)), fontFamily:'DejaVu Serif', fontSize:26, color:'#4d4d4d', margin:12},
    name:'{a|ΔΣ}{s|SFR}{a|(}{i|dex}{a|)}', nameLocation:'middle', nameGap:p.ng,
    nameTextStyle:{color:'#1a1a1a', fontFamily:'DejaVu Sans', rich:{
      a:{fontFamily:'DejaVu Sans', fontSize:50, lineHeight:64, color:'#1a1a1a'},
      i:{fontFamily:'DejaVu Sans', fontSize:50, lineHeight:64, fontStyle:'italic', color:'#1a1a1a'},
      s:{fontFamily:'DejaVu Sans', fontSize:34, lineHeight:34, fontStyle:'italic', verticalAlign:'bottom', color:'#1a1a1a'}}}});
  titles.push({text:rowTitles[Math.floor(i/3)], left:p.t[0], top:p.t[1], textAlign:'center', textVerticalAlign:'middle', padding:0,
    textStyle:{fontFamily:'DejaVu Serif', fontSize:56, fontWeight:'normal', color:'#222222'}});
});

function pts(vals){ return xs.map((x,i)=>[x, (vals[i]===undefined)?null:vals[i]]); }
function line(pi, vals, color, width, opacity, z){
  series.push({type:'line', xAxisIndex:pi, yAxisIndex:pi, data:pts(vals), symbol:'none', showSymbol:false,
    lineStyle:{color, width, opacity}, z, silent:true, animation:false, clip:true, connectNulls:false});
}
function band(pi, lo, hi, color, opacity, z){
  series.push({type:'custom', xAxisIndex:pi, yAxisIndex:pi, data:xs.map((x,i)=>[x, lo[i], hi[i]]),
    encode:{x:0, y:[1,2]}, z, silent:true, animation:false, clip:true,
    renderItem:(params, api)=>{
      if(params.dataIndexInside!==0) return null;
      const n=params.dataInsideLength, top=[], bot=[];
      for(let k=0;k<n;k++){ top.push(api.coord([api.value(0,k), api.value(2,k)])); bot.push(api.coord([api.value(0,k), api.value(1,k)])); }
      return {type:'polygon', shape:{points:top.concat(bot.reverse())}, style:{fill:color, opacity}};
    }});
}
function zero(pi){
  series.push({type:'line', xAxisIndex:pi, yAxisIndex:pi, data:[[XMIN,0],[XMAX,0]], symbol:'none', showSymbol:false,
    lineStyle:{color:'#9e9e9e', width:2.5, type:[4,4]}, z:1, silent:true, animation:false});
}
const minusArr=(a,b)=>a.map((v,i)=>v-b[i]);
const plusArr=(a,b)=>a.map((v,i)=>v+b[i]);

const rows=[
 {mAvg:r1MergAvg, mErr:r1MergErr, cAvg:r1CtrlAvg, cErr:r1CtrlErr, cAll:r1CtrlAll, cAllErr:r1CtrlAllErr, oLo:r1CtrlOuterLo, oHi:r1CtrlOuterHi, iLo:r1CtrlInnerLo, iHi:r1CtrlInnerHi, kLo:r1CtrlCoreLo, kHi:r1CtrlCoreHi, mLines:r1MergLines, cLines:r1CtrlLines},
 {mAvg:r2MergAvg, mErr:r2MergErr, cAvg:r2CtrlAvg, cErr:r2CtrlErr, cAll:r2CtrlAll, cAllErr:r2CtrlAllErr, oLo:r2CtrlOuterLo, oHi:r2CtrlOuterHi, iLo:r2CtrlInnerLo, iHi:r2CtrlInnerHi, kLo:r2CtrlCoreLo, kHi:r2CtrlCoreHi, mLines:r2MergLines, cLines:r2CtrlLines},
 {mAvg:r3MergAvg, mErr:r3MergErr, cAvg:r3CtrlAvg, cErr:r3CtrlErr, cAll:r3CtrlAvg, cAllErr:r3CtrlAllErr, oLo:r3CtrlOuterLo, oHi:r3CtrlOuterHi, iLo:r3CtrlInnerLo, iHi:r3CtrlInnerHi, kLo:r3CtrlCoreLo, kHi:r3CtrlCoreHi, mLines:r3MergLines, cLines:r3CtrlLines}
];
const GREEN='#2e5e46', SALMON='#e07b67';
rows.forEach((r,ri)=>{
  const pL=ri*3, pM=ri*3+1, pR=ri*3+2;
  // left column: mean +- error bands
  zero(pL);
  band(pL, minusArr(r.mAvg,r.mErr), plusArr(r.mAvg,r.mErr), SALMON, 0.95, 3);
  line(pL, r.mAvg, '#dc6e58', 2, 0.6, 3);
  band(pL, minusArr(r.cAvg,r.cErr), plusArr(r.cAvg,r.cErr), GREEN, 1, 4);
  line(pL, r.cAvg, GREEN, 3.5, 1, 4);
  // middle column: individual mergers
  zero(pM);
  r.mLines.forEach(v=>line(pM, v, '#e9806b', 2.5, 0.36, 2));
  line(pM, r.cAvg, GREEN, 5, 1, 4);
  band(pM, minusArr(r.mAvg,r.mErr), plusArr(r.mAvg,r.mErr), '#666666', 0.9, 5);
  line(pM, r.mAvg, '#5e5e5e', 4, 1, 5);
  // right column: controls + mergers
  zero(pR);
  band(pR, r.oLo, r.oHi, '#557f69', 0.15, 2);
  band(pR, r.iLo, r.iHi, '#24573f', 0.5, 2);
  band(pR, r.kLo, r.kHi, '#0f3d28', 0.55, 2);
  r.cLines.forEach(v=>line(pR, v, '#3f7a5c', 2, 0.3, 3));
  r.mLines.forEach(v=>line(pR, v, '#d2573c', 2.5, 0.55, 4));
  band(pR, minusArr(r.cAll,r.cAllErr), plusArr(r.cAll,r.cAllErr), '#000000', 1, 5);
  line(pR, r.cAll, '#000000', 3, 1, 5);
  line(pR, r.mAvg, '#f6f1ed', 5.5, 1, 6);
});

// legends & decorations
const graphic=[{type:'rect', left:0, top:0, shape:{x:0,y:0,width:60,height:1582}, style:{fill:'#0b2957'}, z:10}];
legendSpecs.forEach(L=>{
  graphic.push({type:'rect', shape:{x:L.box[0], y:L.box[1], width:L.box[2], height:L.box[3], r:6}, style:{fill:'rgba(255,255,255,0.8)', stroke:'#e3e3e3', lineWidth:2}, z:100});
  L.items.forEach(it=>{
    const [kind,color,label,cy,th]=it;
    graphic.push({type:'rect', shape:{x:L.ix, y:cy-th/2, width:L.iw, height:th}, style:{fill:color}, z:101});
    graphic.push({type:'text', x:L.tx, y:cy, style:{text:label, font:L.fs+'px "DejaVu Serif"', fill:'#262626', textVerticalAlign:'middle', verticalAlign:'middle', textAlign:'left', align:'left'}, z:101});
  });
});

const chart=echarts.init(document.getElementById('c'), null, {renderer:'canvas', width:2951, height:1582});
chart.setOption({animation:false, backgroundColor:'#ffffff', title:titles, grid:grids, xAxis:xAxes, yAxis:yAxes, series, graphic});
</script></body></html>
